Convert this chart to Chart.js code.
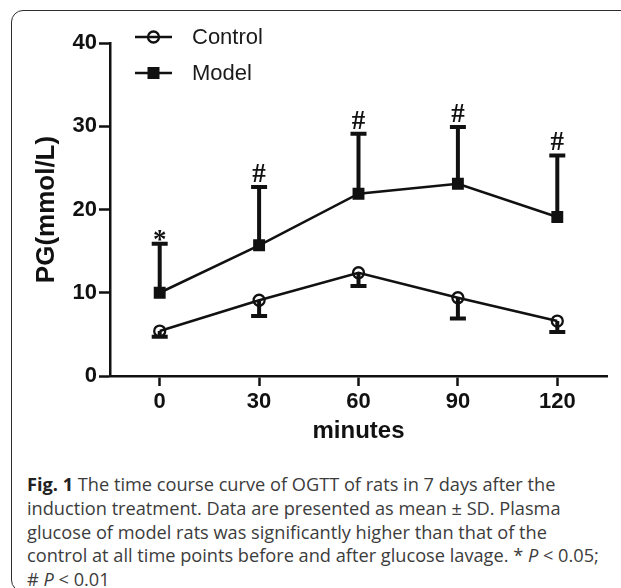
<!DOCTYPE html>
<html lang="en">
<head>
  <meta charset="UTF-8" />
  <title>OGTT time course</title>
  <script src="https://cdn.jsdelivr.net/npm/chart.js@4"></script>
  <style>
    html, body { margin: 0; padding: 0; background: #fff; overflow: hidden; width: 621px; height: 588px; }
    #frame {
      position: absolute; left: 11px; top: 10px; width: 650px; height: 582px;
      border: 1.6px solid #2e2e2e; border-radius: 12px; box-sizing: border-box;
    }
    #chart { position: absolute; left: 0; top: 0; }
    #caption {
      position: absolute; left: 27px; top: 473px; white-space: nowrap;
      font-family: "Open Sans", sans-serif; font-size: 18.2px; line-height: 23.8px; color: #3c3c3c;
    }
    #caption b { color: #222; }
  </style>
</head>
<body>
  <div id="frame"></div>
  <canvas id="chart" width="621" height="450"></canvas>
  <div id="caption">
    <b>Fig. 1</b> The time course curve of OGTT of rats in 7 days after the<br>
    induction treatment. Data are presented as mean ± SD. Plasma<br>
    glucose of model rats was significantly higher than that of the<br>
    control at all time points before and after glucose lavage. * <i>P</i> &lt; 0.05;<br>
    # <i>P</i> &lt; 0.01
  </div>

  <script>
    // time points (minutes)
    const minutes = [0, 30, 60, 90, 120];
    const yTicks = [0, 10, 20, 30, 40];

    // plasma glucose, mmol/L (mean and SD)
    const controlMean = [5.4, 9.1, 12.4, 9.4, 6.6];
    const controlSD = [0.7, 1.9, 1.6, 2.5, 1.3];
    const modelMean = [10.0, 15.7, 21.9, 23.1, 19.1];
    const modelSD = [5.9, 7.0, 7.2, 6.8, 7.4];

    // significance marks above the model bars
    const marks = ["*", "#", "#", "#", "#"];

    const ink = "#111";

    // error bars: control drawn downward, model drawn upward
    const errorBars = {
      id: "errorBars",
      beforeDatasetsDraw(chart) {
        const { ctx, scales: { x, y } } = chart;
        ctx.save();
        ctx.strokeStyle = ink;
        ctx.lineWidth = 4;
        ctx.lineCap = "butt";
        const cap = 8;
        chart.data.datasets.forEach(ds => {
          ds.data.forEach((p, i) => {
            const px = x.getPixelForValue(p.x);
            const py = y.getPixelForValue(p.y);
            const end = ds.errDir > 0 ? p.y + ds.sd[i] : p.y - ds.sd[i];
            const pe = y.getPixelForValue(end);
            ctx.beginPath();
            ctx.moveTo(px, py);
            ctx.lineTo(px, pe);
            ctx.moveTo(px - cap, pe);
            ctx.lineTo(px + cap, pe);
            ctx.stroke();
          });
        });
        ctx.restore();
      },
      afterDatasetsDraw(chart) {
        const { ctx, scales: { x, y } } = chart;
        ctx.save();
        ctx.fillStyle = ink;
        ctx.font = "bold 27px 'Liberation Serif', serif";
        ctx.textAlign = "center";
        ctx.textBaseline = "alphabetic";
        minutes.forEach((m, i) => {
          const px = x.getPixelForValue(m);
          const pe = y.getPixelForValue(modelMean[i] + modelSD[i]);
          ctx.fillText(marks[i], px, pe - (marks[i] === "*" ? -4 : 5));
        });
        ctx.restore();
      }
    };

    // legend drawn inside the plot area, top left
    const insideLegend = {
      id: "insideLegend",
      afterDraw(chart) {
        const { ctx, chartArea } = chart;
        ctx.save();
        chart.data.datasets.forEach((ds, i) => {
          const rowY = chartArea.top - 6 + i * 36;
          const x0 = chartArea.left + 25;
          const x1 = chartArea.left + 62;
          const cx = (x0 + x1) / 2;
          ctx.strokeStyle = ink;
          ctx.lineWidth = 2.5;
          ctx.beginPath();
          ctx.moveTo(x0, rowY);
          ctx.lineTo(x1, rowY);
          ctx.stroke();
          if (ds.pointStyle === "rect") {
            ctx.fillStyle = ink;
            ctx.fillRect(cx - 6, rowY - 6, 12, 12);
          } else {
            ctx.lineWidth = 2.3;
            ctx.beginPath();
            ctx.arc(cx, rowY, 5.5, 0, Math.PI * 2);
            ctx.stroke();
          }
          ctx.fillStyle = "#1a1a1a";
          ctx.font = "22px 'Liberation Sans', Arial, sans-serif";
          ctx.textAlign = "left";
          ctx.textBaseline = "middle";
          ctx.fillText(ds.label, chartArea.left + 82, rowY + 1);
        });
        ctx.restore();
      }
    };

    const tickFont = { family: "'Liberation Sans', Arial, sans-serif", size: 22, weight: "bold" };
    const titleFont = { family: "'Liberation Sans', Arial, sans-serif", size: 24, weight: "bold" };

    new Chart(document.getElementById("chart"), {
      type: "line",
      data: {
        datasets: [
          {
            label: "Control",
            data: minutes.map((m, i) => ({ x: m, y: controlMean[i] })),
            sd: controlSD,
            errDir: -1,
            borderColor: ink,
            borderWidth: 2.5,
            pointStyle: "circle",
            pointRadius: 5.5,
            pointBorderWidth: 2.3,
            pointBorderColor: ink,
            pointBackgroundColor: "rgba(0,0,0,0)"
          },
          {
            label: "Model",
            data: minutes.map((m, i) => ({ x: m, y: modelMean[i] })),
            sd: modelSD,
            errDir: 1,
            borderColor: ink,
            borderWidth: 2.5,
            pointStyle: "rect",
            pointRadius: 7,
            pointBorderWidth: 2,
            pointBorderColor: ink,
            pointBackgroundColor: ink
          }
        ]
      },
      options: {
        responsive: false,
        animation: false,
        layout: { padding: { top: 43, right: 14, left: 0, bottom: 0 } },
        plugins: { legend: { display: false }, tooltip: { enabled: false } },
        scales: {
          x: {
            type: "linear",
            min: -15,
            max: 135,
            afterBuildTicks: s => { s.ticks = minutes.map(v => ({ value: v })); },
            afterFit: s => { s.height = 74; },
            grid: { drawOnChartArea: false, drawTicks: true, tickLength: 10, tickWidth: 2.5, tickColor: ink },
            border: { display: true, color: ink, width: 2.5 },
            ticks: { color: ink, font: tickFont, padding: 3, maxRotation: 0 },
            title: { display: true, text: "minutes", color: ink, font: titleFont, padding: { top: 0, bottom: 4 } }
          },
          y: {
            min: 0,
            max: 40,
            afterBuildTicks: s => { s.ticks = yTicks.map(v => ({ value: v })); },
            afterFit: s => { s.width = 110; },
            grid: { drawOnChartArea: false, drawTicks: true, tickLength: 11, tickWidth: 2.5, tickColor: ink },
            border: { display: true, color: ink, width: 2.5 },
            ticks: { color: ink, font: tickFont, padding: 2 },
            title: { display: true, text: "PG(mmol/L)", color: ink, font: { ...titleFont, size: 26 }, padding: { top: 31, bottom: 0 } }
          }
        }
      },
      plugins: [errorBars, insideLegend]
    });
  </script>
</body>
</html>
